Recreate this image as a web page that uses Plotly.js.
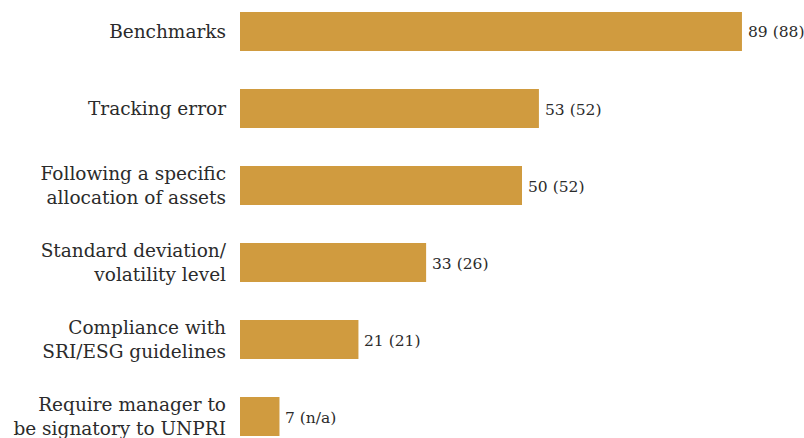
<!DOCTYPE html>
<html>
<head>
<meta charset="utf-8">
<script src="https://cdn.plot.ly/plotly-3.0.1.min.js"></script>
<style>html,body{margin:0;padding:0;background:#fff;}#chart{width:804px;height:438px;}</style>
</head>
<body>
<div id="chart"></div>
<script>
const categories = [
  "Benchmarks",
  "Tracking error",
  "Following a specific<br>allocation of assets",
  "Standard deviation/<br>volatility level",
  "Compliance with<br>SRI/ESG guidelines",
  "Require manager to<br>be signatory to UNPRI"
];
const values = [89, 53, 50, 33, 21, 7];
const previous = ["88", "52", "52", "26", "21", "n/a"];
const valueLabels = values.map((v, i) => v + " (" + previous[i] + ")");

const barColor = "#D09B3F";
const textColor = "#2b2b2b";
const serif = "DejaVu Serif, Liberation Serif, serif";

const trace = {
  type: "bar",
  orientation: "h",
  x: values,
  y: categories,
  marker: {color: barColor},
  width: 0.506,
  hoverinfo: "skip"
};

const annotations = values.map((v, i) => ({
  x: v, y: categories[i], xref: "x", yref: "y",
  text: valueLabels[i], showarrow: false,
  xanchor: "left", yanchor: "middle", xshift: 4, yshift: -1,
  font: {family: serif, size: 15.5, color: textColor}
}));

const layout = {
  width: 804, height: 438,
  margin: {l: 240, r: 0, t: 0, b: 0},
  paper_bgcolor: "#fff", plot_bgcolor: "#fff",
  showlegend: false,
  xaxis: {range: [0, 100], visible: false, fixedrange: true},
  yaxis: {
    type: "category",
    range: [5.279, -0.409],
    showgrid: false, zeroline: false, showline: false,
    ticks: "", ticklabelstandoff: 13,
    tickfont: {family: serif, size: 18.5, color: textColor}
  },
  annotations: annotations
};

Plotly.newPlot("chart", [trace], layout, {displayModeBar: false, staticPlot: true});
</script>
</body>
</html>
